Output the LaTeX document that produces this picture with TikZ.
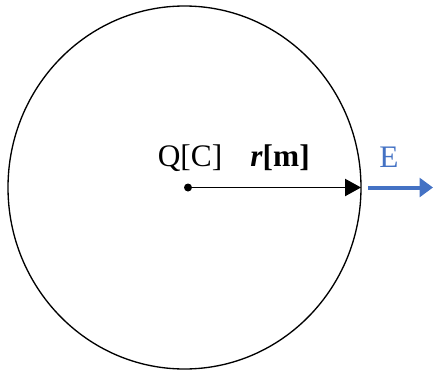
\documentclass[tikz,border=0pt]{standalone}
\usepackage{fontspec}
\setmainfont{Liberation Serif}
\usetikzlibrary{arrows.meta}
\definecolor{fieldblue}{HTML}{4472C4}
\begin{document}
\begin{tikzpicture}[x=0.75pt, y=-0.75pt, every node/.style={font=\fontsize{23.5}{28}\selectfont, inner sep=0pt}]
	\useasboundingbox (0,0) rectangle (433,372);
	% 球面
	\draw[line width=1pt] (184.5,187.5) ellipse [x radius=176.5, y radius=181.5];
	
	% 电荷与半径
	\fill[black] (188,187.5) circle (3pt);
	\coordinate (q) at (188,187.5);
	\coordinate (rim) at (361,187.5);
	\draw[line width=0.8pt, -{Triangle[length=12pt, width=13pt]}] (q) -- (rim);
	\node[anchor=base] (charge) at (190,166.7) {Q[C]};
	\node[anchor=base] (radius) at (280,166.7) {\textbf{\textit{r}[m]}};
	
	% 电场方向
	\coordinate (e0) at (368,187.5);
	\coordinate (e1) at (433,187.5);
	\draw[fieldblue, line width=3pt, -{Triangle[length=10pt, width=14pt]}] (e0) -- (e1);
	\node[anchor=base, text=fieldblue] (field) at (389,167.3) {E};
	
\end{tikzpicture}
\end{document}
